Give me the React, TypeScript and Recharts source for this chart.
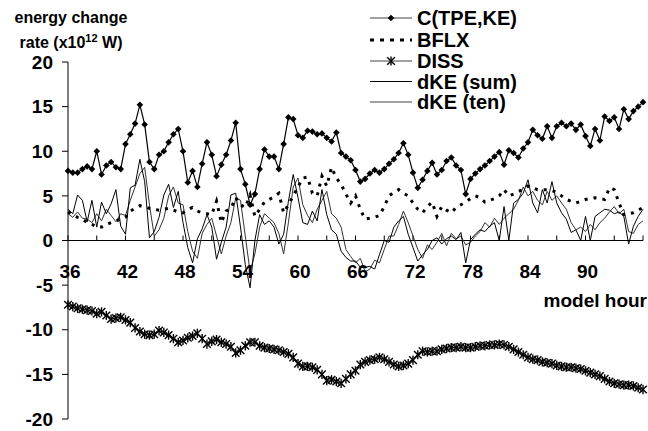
import React from "react";
import { LineChart, Line, XAxis, YAxis, ReferenceLine } from "recharts";

// model hour, every half hour from 36 to 96
const hours: number[] = Array.from({ length: 121 }, (_, i) => 36 + i * 0.5);

const cTpeKe = [
  7.8, 7.6, 7.6, 8.0, 8.3, 8.0, 10.0, 7.4, 8.4, 8.8,
  8.2, 8.0, 10.8, 11.9, 13.1, 15.2, 13.0, 8.8, 8.0, 9.6,
  10.0, 11.0, 11.9, 12.5, 10.0, 6.5, 7.8, 6.0, 8.6, 11.0,
  9.6, 7.2, 8.5, 9.6, 11.2, 13.2, 8.0, 6.3, 4.0, 5.2,
  8.0, 10.2, 9.4, 9.4, 8.0, 10.8, 13.8, 13.6, 11.8, 11.5,
  12.3, 12.2, 11.9, 12.0, 11.5, 11.1, 12.1, 9.8, 9.4, 9.0,
  7.9, 6.6, 6.9, 7.5, 7.9, 7.6, 8.0, 8.6, 9.1, 9.8,
  10.9, 9.6, 7.6, 5.9, 6.8, 7.8, 8.7, 7.4, 7.9, 8.9,
  9.3, 8.4, 7.9, 5.2, 6.9, 7.5, 8.0, 8.4, 8.9, 9.4,
  9.9, 8.5, 10.1, 9.8, 9.3, 10.3, 11.0, 12.4, 11.8, 11.4,
  12.8, 11.5, 12.8, 13.2, 12.8, 13.1, 12.4, 13.0, 11.7, 10.6,
  12.5, 11.2, 13.9, 13.4, 13.8, 12.5, 14.7, 13.6, 14.5, 15.0,
  15.5,
];

const bflx = [
  3.2, 2.9, 2.6, 2.4, 2.0, 1.8, 1.5, 1.5, 1.8, 2.0,
  2.2, 2.4, 2.6, 3.3, 3.6, 3.9, 3.8, 3.6, 3.5, 3.4,
  3.5, 3.6, 3.4, 3.2, 3.1, 3.5, 3.7, 3.3, 3.1, 3.0,
  2.9, 4.4, 2.0, 3.3, 3.6, 4.8, 4.0, 3.7, 5.1, 2.7,
  3.5, 4.3, 4.6, 4.9, 5.3, 3.1, 4.0, 5.0, 6.0, 7.0,
  7.1, 5.3, 5.0, 7.2, 6.1, 8.2, 7.0, 6.3, 5.2, 4.2,
  5.0, 3.5, 2.4, 2.5, 2.6, 2.8, 3.8, 5.0, 5.4, 5.7,
  5.3, 5.0, 4.2, 3.5, 3.1, 3.8, 4.3, 2.7, 3.8, 3.4,
  3.1, 3.7, 4.0, 4.3, 4.7, 5.0, 4.8, 4.3, 4.5, 4.7,
  5.0, 5.7, 5.0, 5.2, 5.5, 5.7, 6.1, 5.9, 5.7, 5.7,
  5.7, 5.6, 5.4, 5.0, 4.6, 4.4, 4.2, 4.4, 4.6, 4.7,
  4.8, 4.7, 4.6, 5.9, 5.7, 4.2, 2.9, 3.0, 3.1, 3.4,
  3.7,
];

const diss = [
  -7.2, -7.4, -7.6, -7.7, -7.8, -7.9, -8.2, -8.0, -8.4, -8.8,
  -8.7, -8.6, -8.9, -9.2, -9.8, -10.2, -10.5, -10.6, -10.5, -10.1,
  -10.3, -10.6, -11.0, -11.4, -11.2, -10.9, -10.7, -10.4, -11.0, -11.6,
  -11.3, -11.1, -11.4, -11.6, -11.9, -12.6, -12.3, -11.8, -11.4, -11.4,
  -11.8, -12.0, -12.1, -12.2, -12.3, -12.5, -12.7, -13.1, -13.8, -14.1,
  -14.1, -14.2, -14.5, -15.0, -15.7, -15.6, -15.8, -16.0, -15.5, -15.0,
  -14.6, -13.9, -13.6, -13.4, -13.3, -13.1, -13.3, -13.6, -13.9, -14.1,
  -14.0, -13.8, -13.4, -12.8, -12.4, -12.5, -12.4, -12.4, -12.2, -12.1,
  -12.0, -12.0, -11.9, -12.0, -12.0, -11.9, -11.8, -11.8, -11.7, -11.7,
  -11.6, -11.7, -11.9, -12.2, -12.5, -12.8, -13.1, -13.3, -13.4, -13.6,
  -13.7, -13.8, -14.0, -14.1, -14.2, -14.2, -14.3, -14.4, -14.6, -14.8,
  -15.0, -15.2, -15.5, -15.8, -16.0, -16.1, -16.2, -16.2, -16.3, -16.5,
  -16.7,
];

const dkeSum = [
  3.5, 3.0, 5.1, 4.5, 2.1, 4.5, 1.5, 4.3, 3.0, 4.1,
  5.7, 1.6, 0.7, 5.9, 6.2, 9.1, 6.6, 0.3, 1.0, 2.6,
  5.1, 6.3, 3.7, 5.5, 2.0, -0.8, -2.5, 0.2, 1.3, 2.9,
  1.5, -2.1, -0.2, 1.5, 5.1, 5.3, 1.5, -2.7, -5.3, 0.0,
  2.9, 1.8, 2.2, 1.5, -0.4, 0.7, 4.4, 7.4, 4.8, 2.0,
  1.8, 3.3, 2.2, 5.7, 2.9, 1.2, 0.7, -1.2, -1.9, -2.3,
  -2.3, -3.0, -3.0, -2.9, -3.2, -1.6, 0.0, -0.2, 1.5, 2.2,
  2.7, 0.7, -0.8, -2.3, -1.6, -1.0, 0.0, 0.3, -0.4, 0.2,
  0.5, 0.1, 0.9, -2.5, 0.1, 0.7, 1.2, 1.0, 1.6, 2.0,
  0.0, 3.8, 0.0, 4.2, 4.6, 5.3, 6.8, 4.2, 3.1, 5.7,
  4.2, 6.6, 4.2, 3.1, 2.4, 0.9, 1.2, 0.0, 2.7, 0.0,
  2.7, 3.1, 3.5, 3.4, 3.0, 3.2, 2.7, -0.4, 1.6, 2.7,
  3.5,
];

const dkeTen = [
  3.0, 2.6, 3.2, 2.5, 2.4, 2.0, 3.0, 2.2, 3.5, 2.8,
  2.1, 3.0, 2.8, 4.5, 6.0, 7.5, 8.2, 4.0, 0.5, 1.2,
  2.5, 5.0, 6.0, 4.2, 4.0, 1.0, -1.2, -2.0, 0.8, 1.8,
  2.5, 0.5, -1.5, 0.5, 2.0, 4.8, 4.5, 0.5, -3.5, -1.5,
  1.5, 3.0, 2.5, 2.0, 0.8, -1.5, 2.0, 6.0, 7.0, 4.0,
  2.8, 2.0, 3.5, 4.5, 5.5, 3.0, 2.5, 1.5, -1.0, -1.8,
  -2.5, -2.0, -3.5, -3.2, -2.2, -2.5, -1.0, 0.5, 0.5, 1.8,
  3.3, 2.0, 0.5, -1.0, -2.0, -0.5, -1.0, -0.2, 0.8, -0.6,
  0.8, 0.2, 0.5, -0.5, -0.2, 0.5, 1.0, 2.0, 1.5, 2.5,
  1.8, 2.5, 3.0, 3.5, 4.5, 6.0, 5.0, 5.5, 4.5, 4.0,
  5.5, 4.5, 5.0, 4.2, 3.5, 2.0, 1.2, 1.5, 1.0, 1.8,
  1.2, 2.0, 2.5, 3.2, 3.8, 3.0, 3.5, 1.0, 0.8, 1.8,
  2.2,
];

const xTicks = [36, 39, 42, 45, 48, 51, 54, 57, 60, 63, 66, 69, 72, 75, 78, 81, 84, 87, 90, 93, 96];
const yTicks = [-20, -15, -10, -5, 0, 5, 10, 15, 20];

const data = hours.map((h, i) => ({
  hour: h,
  c: cTpeKe[i],
  bflx: bflx[i],
  diss: diss[i],
  sum: dkeSum[i],
  ten: dkeTen[i],
}));

const W = 648;
const H = 431;
const xAxisH = 12;
const margin = { top: 62, right: 5, bottom: 0, left: 0 };
const plotH = H - margin.top - margin.bottom - xAxisH;
// x axis crosses at y = 0, halfway down the [-20, 20] range
const zeroY = margin.top + plotH / 2;
const font = "'Liberation Sans', Arial, sans-serif";

const Diamond = (props: any) => {
  const { cx, cy } = props;
  if (cx == null || cy == null) return <g key={props.key} />;
  const s = 3.3;
  return (
    <path
      key={props.key}
      d={`M${cx},${cy - s}L${cx + s},${cy}L${cx},${cy + s}L${cx - s},${cy}Z`}
      fill="#000"
    />
  );
};

const Star = (props: any) => {
  const { cx, cy } = props;
  if (cx == null || cy == null) return <g key={props.key} />;
  const s = 3.8;
  return (
    <g key={props.key} stroke="#000" strokeWidth={1.4}>
      <line x1={cx - s} y1={cy - s} x2={cx + s} y2={cy + s} />
      <line x1={cx - s} y1={cy + s} x2={cx + s} y2={cy - s} />
      <line x1={cx} y1={cy - s - 0.8} x2={cx} y2={cy + s + 0.8} />
    </g>
  );
};

const XTick = (props: any) => {
  const { x, payload } = props;
  const v = payload.value;
  return (
    <g>
      <line x1={x} x2={x} y1={zeroY - 5} y2={zeroY} stroke="#000" />
      {v % 6 === 0 && v < 96 && (
        <text
          x={x + 2}
          y={zeroY + 37}
          textAnchor="middle"
          fontSize={19}
          fontWeight="bold"
          fontFamily={font}
          fill="#000"
        >
          {v}
        </text>
      )}
    </g>
  );
};

const legendRows = [
  { label: "C(TPE,KE)", kind: "diamond" },
  { label: "BFLX", kind: "dash" },
  { label: "DISS", kind: "star" },
  { label: "dKE (sum)", kind: "line" },
  { label: "dKE (ten)", kind: "line2" },
];
const legendBase = [25, 47, 68, 88.5, 109];

export default function App() {
  return (
    <div style={{ position: "relative", width: W, height: H, fontFamily: font }}>
      <style>{`body{margin:0}`}</style>
      <LineChart width={W} height={H} data={data} margin={margin}>
        <XAxis
          dataKey="hour"
          type="number"
          domain={[36, 96]}
          ticks={xTicks}
          interval={0}
          axisLine={false}
          tickLine={false}
          height={xAxisH}
          tick={(p: any) => <XTick {...p} />}
        />
        <YAxis
          domain={[-20, 20]}
          ticks={yTicks}
          width={68}
          interval={0}
          axisLine={{ stroke: "#000" }}
          tickLine={{ stroke: "#000" }}
          tickSize={6}
          tickMargin={9}
          tick={{ fill: "#000", fontSize: 19, fontWeight: "bold", fontFamily: font }}
        />
        <ReferenceLine y={0} stroke="#000" strokeWidth={1} />
        <Line dataKey="ten" stroke="#333" strokeWidth={1} dot={false} isAnimationActive={false} />
        <Line dataKey="sum" stroke="#000" strokeWidth={1} dot={false} isAnimationActive={false} />
        <Line
          dataKey="bflx"
          stroke="#000"
          strokeWidth={3}
          strokeDasharray="3 6"
          dot={false}
          isAnimationActive={false}
        />
        <Line
          dataKey="diss"
          stroke="#000"
          strokeWidth={1}
          dot={Star}
          activeDot={false}
          isAnimationActive={false}
        />
        <Line
          dataKey="c"
          stroke="#000"
          strokeWidth={1.2}
          dot={Diamond}
          activeDot={false}
          isAnimationActive={false}
        />
      </LineChart>
      <svg
        width={W}
        height={H}
        style={{ position: "absolute", left: 0, top: 0, pointerEvents: "none" }}
        fontFamily={font}
        fontWeight="bold"
      >
        <text x={71} y={23} textAnchor="middle" fontSize={16}>
          energy change
        </text>
        <text x={71} y={48} textAnchor="middle" fontSize={16}>
          rate (x10
          <tspan fontSize={11} dy={-6}>
            12
          </tspan>
          <tspan dy={6}> W)</tspan>
        </text>
        <text x={647} y={307} textAnchor="end" fontSize={19}>
          model hour
        </text>
        {legendRows.map((r, i) => {
          const by = legendBase[i];
          const cy = by - 7;
          return (
            <g key={r.label}>
              {r.kind === "dash" ? (
                <line x1={370} x2={412} y1={cy} y2={cy} stroke="#000" strokeWidth={3} strokeDasharray="4 6" />
              ) : (
                <line
                  x1={370}
                  x2={412}
                  y1={cy}
                  y2={cy}
                  stroke={r.kind === "line" ? "#000" : "#444"}
                  strokeWidth={1}
                />
              )}
              {r.kind === "diamond" && <Diamond cx={391} cy={cy} />}
              {r.kind === "star" && <Star cx={391} cy={cy} />}
              <text x={417} y={by} fontSize={20}>
                {r.label}
              </text>
            </g>
          );
        })}
      </svg>
    </div>
  );
}
